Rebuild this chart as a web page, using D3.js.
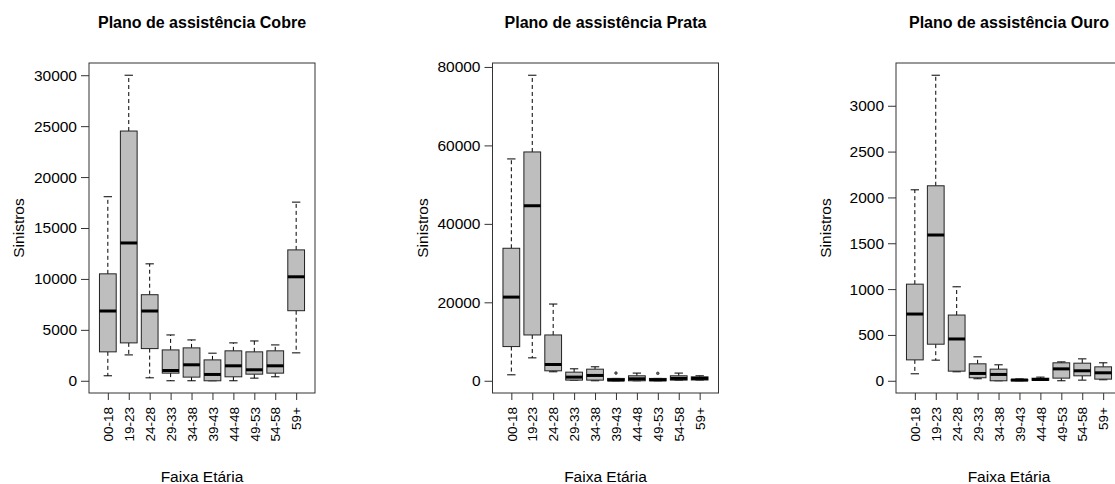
<!DOCTYPE html>
<html>
<head>
<meta charset="utf-8">
<script src="https://cdn.jsdelivr.net/npm/d3@7"></script>
<style>
  html, body { margin: 0; padding: 0; background: #fff; }
  svg { display: block; }
  text { font-family: "Liberation Sans", Arial, sans-serif; fill: #000; }
</style>
</head>
<body>
<svg id="chart" width="1115" height="484"></svg>
<script>
// ---------------- data ----------------
const categories = ["00-18","19-23","24-28","29-33","34-38","39-43","44-48","49-53","54-58","59+"];
const titles = ["Plano de assistência Cobre", "Plano de assistência Prata", "Plano de assistência Ouro"];
const xLabel = "Faixa Etária";
const yLabel = "Sinistros";

const cobreLow  = [490, 2540, 290, 0, 0, 0, 0, 260, 390, 2740];
const cobreQ1   = [2840, 3720, 3160, 750, 360, 0, 390, 650, 750, 6880];
const cobreMed  = [6850, 13530, 6850, 1010, 1570, 620, 1470, 1080, 1470, 10210];
const cobreQ3   = [10500, 24520, 8450, 3030, 3230, 2050, 2940, 2840, 2940, 12850];
const cobreHigh = [18070, 30000, 11480, 4500, 4010, 2710, 3720, 3910, 3520, 17540];
const cobreOut  = [[], [], [], [], [], [], [], [], [], []];
const cobreTicks = [0, 5000, 10000, 15000, 20000, 25000, 30000];

const prataLow  = [1520, 5840, 2290, 170, 0, 0, 0, 0, 170, 200];
const prataQ1   = [8720, 11680, 2540, 170, 170, 0, 0, 0, 170, 200];
const prataMed  = [21330, 44620, 4150, 930, 1360, 200, 500, 250, 600, 600];
const prataQ3   = [33780, 58330, 11680, 2200, 2960, 600, 1270, 600, 1270, 1000];
const prataHigh = [56550, 77890, 19560, 3050, 3560, 600, 1960, 600, 1960, 1270];
const prataOut  = [[], [], [], [], [], [1960], [], [1900], [], []];
const prataTicks = [0, 20000, 40000, 60000, 80000];

const ouroLow  = [76, 225, 98, 22, 0, 0, 5, 0, 7, 11];
const ouroQ1   = [228, 399, 105, 33, 0, 0, 5, 29, 54, 18];
const ouroMed  = [728, 1590, 456, 80, 69, 8, 14, 130, 109, 87];
const ouroQ3   = [1054, 2127, 717, 185, 127, 15, 28, 196, 192, 152];
const ouroHigh = [2083, 3333, 1025, 261, 174, 20, 40, 206, 239, 196];
const ouroOut  = [[], [], [], [], [], [], [], [], [], []];
const ouroTicks = [0, 500, 1000, 1500, 2000, 2500, 3000];

const panels = [
  {title: titles[0], low: cobreLow, q1: cobreQ1, med: cobreMed, q3: cobreQ3, high: cobreHigh, out: cobreOut, ticks: cobreTicks},
  {title: titles[1], low: prataLow, q1: prataQ1, med: prataMed, q3: prataQ3, high: prataHigh, out: prataOut, ticks: prataTicks},
  {title: titles[2], low: ouroLow, q1: ouroQ1, med: ouroMed, q3: ouroQ3, high: ouroHigh, out: ouroOut, ticks: ouroTicks}
];

// ---------------- layout ----------------
const svg = d3.select("#chart");
const panelStep = 403.5;
const plotLeft = 89, plotW = 226, plotTop = 63, plotBottom = 393;
const boxWex = 0.8;

panels.forEach((p, pi) => {
  const g = svg.append("g").attr("transform", `translate(${pi * panelStep},0)`);
  const x = d3.scaleLinear().domain([0.1, 10.9]).range([plotLeft, plotLeft + plotW]);
  const allVals = p.low.concat(p.high, p.out.flat());
  const mn = d3.min(allVals), mx = d3.max(allVals);
  const pad = (mx - mn) * 0.04;
  const y = d3.scaleLinear().domain([mn - pad, mx + pad]).range([plotBottom, plotTop]);

  const bw = x(1 + boxWex / 2) - x(1);       // half box width
  const sw = bw / 2;                          // half staple width

  categories.forEach((c, i) => {
    const cx = x(i + 1);
    const bg = g.append("g");
    // whiskers (dashed)
    bg.append("line").attr("x1", cx).attr("x2", cx)
      .attr("y1", y(p.q3[i])).attr("y2", y(p.high[i]))
      .attr("stroke", "#000").attr("stroke-width", 1).attr("stroke-dasharray", "4,3");
    bg.append("line").attr("x1", cx).attr("x2", cx)
      .attr("y1", y(p.q1[i])).attr("y2", y(p.low[i]))
      .attr("stroke", "#000").attr("stroke-width", 1).attr("stroke-dasharray", "4,3");
    // staples
    [p.high[i], p.low[i]].forEach(v => {
      bg.append("line").attr("x1", cx - sw).attr("x2", cx + sw)
        .attr("y1", y(v)).attr("y2", y(v))
        .attr("stroke", "#000").attr("stroke-width", 1);
    });
    // box
    bg.append("rect").attr("x", cx - bw).attr("width", 2 * bw)
      .attr("y", y(p.q3[i])).attr("height", Math.max(0, y(p.q1[i]) - y(p.q3[i])))
      .attr("fill", "#bebebe").attr("stroke", "#222").attr("stroke-width", 1);
    // median
    bg.append("line").attr("x1", cx - bw).attr("x2", cx + bw)
      .attr("y1", y(p.med[i])).attr("y2", y(p.med[i]))
      .attr("stroke", "#000").attr("stroke-width", 3);
    // outliers
    p.out[i].forEach(v => {
      bg.append("circle").attr("cx", cx).attr("cy", y(v)).attr("r", 1.3)
        .attr("fill", "#666").attr("stroke", "#333").attr("stroke-width", 0.8);
    });
  });

  // plot border
  g.append("rect").attr("x", plotLeft).attr("y", plotTop)
    .attr("width", plotW).attr("height", plotBottom - plotTop)
    .attr("fill", "none").attr("stroke", "#333").attr("stroke-width", 1);

  // y axis
  const yAxis = d3.axisLeft(y).tickValues(p.ticks).tickSize(8).tickPadding(4).tickFormat(d3.format("d"));
  const ya = g.append("g").attr("transform", `translate(${plotLeft},0)`).call(yAxis);
  ya.select(".domain").remove();
  ya.selectAll("line").attr("stroke", "#333");
  ya.selectAll("text").attr("font-size", "15.5px").attr("font-family", "Liberation Sans, Arial, sans-serif").attr("fill", "#000");

  // x axis
  const xAxis = d3.axisBottom(x).tickValues(d3.range(1, 11)).tickSize(7).tickFormat((d) => categories[d - 1]);
  const xa = g.append("g").attr("transform", `translate(0,${plotBottom})`).call(xAxis);
  xa.select(".domain").remove();
  xa.selectAll("line").attr("stroke", "#333");
  xa.selectAll("text")
    .attr("font-size", "13.5px").attr("font-family", "Liberation Sans, Arial, sans-serif").attr("fill", "#000")
    .attr("text-anchor", "end")
    .attr("transform", "rotate(-90)")
    .attr("x", -14).attr("y", 0).attr("dy", "0.35em");

  // titles
  g.append("text").attr("x", plotLeft + plotW / 2).attr("y", 28)
    .attr("text-anchor", "middle").attr("font-weight", "bold").attr("font-size", "16px")
    .text(p.title);
  g.append("text").attr("x", plotLeft + plotW / 2).attr("y", 482)
    .attr("text-anchor", "middle").attr("font-size", "15.5px").text(xLabel);
  g.append("text").attr("transform", `translate(19,${(plotTop + plotBottom) / 2}) rotate(-90)`)
    .attr("text-anchor", "middle").attr("dy", "0.35em").attr("font-size", "15.5px").text(yLabel);
});
</script>
</body>
</html>
